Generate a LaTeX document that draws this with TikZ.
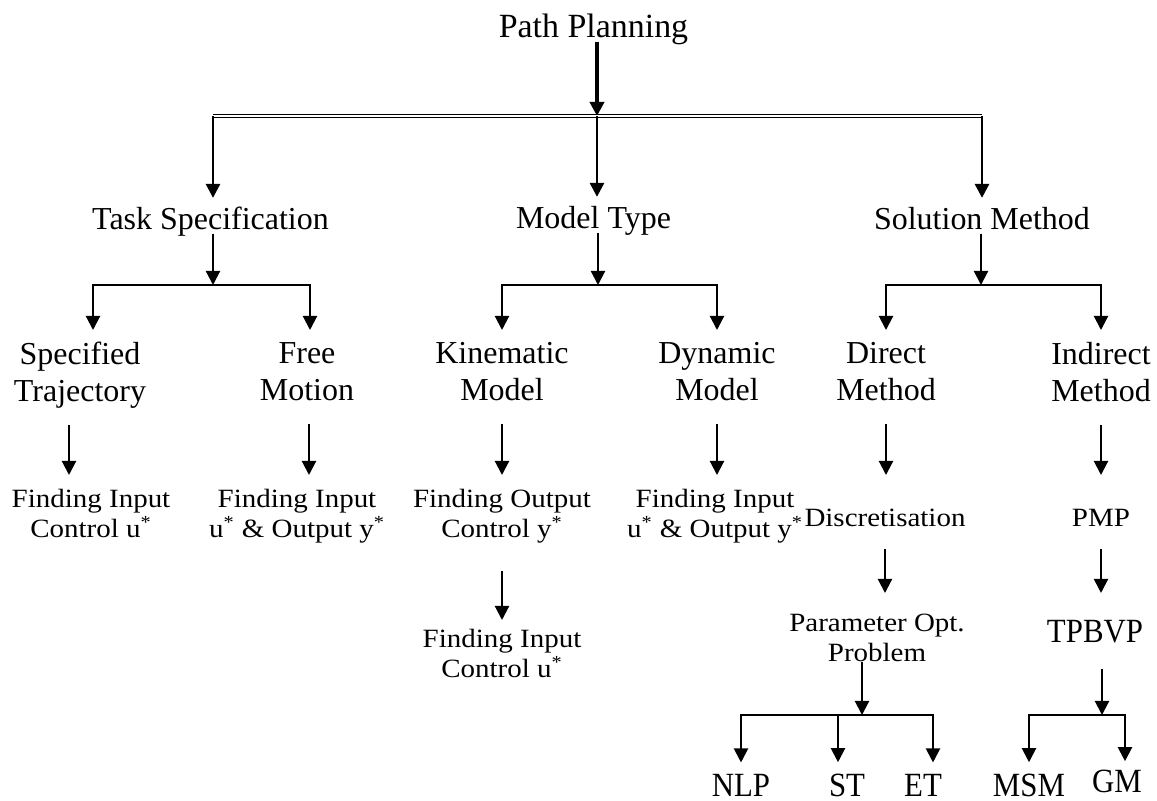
\documentclass[tikz,border=0pt]{standalone}
\usepackage{fontspec}
\setmainfont{Liberation Serif}
\newfontfamily\wideserif[FakeStretch=1.1]{Liberation Serif}
\newfontfamily\tallserif[FakeStretch=0.91]{Liberation Serif}
\usetikzlibrary{arrows.meta}
\tikzset{>={Triangle[width=8pt,length=8pt]}}

\begin{document}
\begin{tikzpicture}[x=0.02cm, y=-0.02cm,
    head/.style={inner sep=0pt, anchor=base, text height=0.7em, text depth=0.25em, font=\fontsize{18.2}{21}\selectfont},
    kind/.style={inner sep=0pt, anchor=north, align=center, font=\fontsize{18.2}{21}\selectfont, execute at begin node=\strut, execute at end node=\strut},
    goal/.style={inner sep=0pt, anchor=north, align=center, font=\wideserif\fontsize{15}{17}\selectfont, execute at begin node=\strut, execute at end node=\strut},
    leaf/.style={inner sep=0pt, anchor=base, font=\tallserif\fontsize{19.3}{22}\selectfont},
    link/.style={->, line width=1.2pt},
    trunk/.style={->, line width=1.6pt}]
    \useasboundingbox (0,0) rectangle (1157,801);

    %Nodes
    \node[head, font=\fontsize{19.3}{22}\selectfont] (pp) at (593.5,37) {Path Planning};
    \node[head] (task) at (210.5,229) {Task Specification};
    \node[head] (model) at (593.5,228) {Model Type};
    \node[head] (sol) at (982,229) {Solution Method};

    \node[kind] (spec) at (80,342) {Specified\\Trajectory};
    \node[kind] (free) at (307,342) {Free\\Motion};
    \node[kind] (kin) at (502,342) {Kinematic\\Model};
    \node[kind] (dyn) at (717,342) {Dynamic\\Model};
    \node[kind] (dir) at (886,342) {Direct\\Method};
    \node[kind] (ind) at (1101,342) {Indirect\\Method};

    \node[goal] (specin) at (91,489) {Finding Input\\Control u\textsuperscript{*}};
    \node[goal] (freeio) at (297,489) {Finding Input\\u\textsuperscript{*} \& Output y\textsuperscript{*}};
    \node[goal] (kinout) at (502,489) {Finding Output\\Control y\textsuperscript{*}};
    \node[goal] (dynio) at (715,489) {Finding Input\\u\textsuperscript{*} \& Output y\textsuperscript{*}};
    \node[goal] (kinin) at (502,629) {Finding Input\\Control u\textsuperscript{*}};
    \node[goal] (disc) at (885,505) {Discretisation};
    \node[goal] (pmp) at (1101,505) {PMP};
    \node[goal] (param) at (877,614) {Parameter Opt.\\Problem};
    \node[leaf] (tpbvp) at (1095,642) {TPBVP};

    \node[leaf] (nlp) at (741,796) {NLP};
    \node[leaf] (st) at (847,796) {ST};
    \node[leaf] (et) at (923,796) {ET};
    \node[leaf] (msm) at (1029,796) {MSM};
    \node[leaf] (gm) at (1117,792) {GM};

    %Forks
    \coordinate (split) at (597,116);
    \coordinate (lt) at (213,116);
    \coordinate (rt) at (982,116);
    \coordinate (taskfork) at (213,285);
    \coordinate (modelfork) at (598,285);
    \coordinate (solfork) at (981,285);
    \coordinate (paramfork) at (862,715);
    \coordinate (tpbvpfork) at (1102,715);

    %Lines
    \draw[->, line width=2.8pt] (pp.south -| split) -- (split);
    \draw[line width=0.6pt, double, double distance=1.3pt] (lt) -- (rt);
    \draw[trunk, shorten >=0.37cm] (lt) -- (lt |- task.north);
    \draw[trunk, shorten >=0.37cm] (split) -- (split |- model.north);
    \draw[trunk, shorten >=0.37cm] (rt) -- (rt |- sol.north);

    \draw[link] (task.south -| taskfork) -- (taskfork);
    \draw[link] (model.south -| modelfork) -- (modelfork);
    \draw[link] (sol.south -| solfork) -- (solfork);
    \draw[link, <->, shorten <=0.24cm, shorten >=0.24cm] ([xshift=0.26cm]spec.north) |- (taskfork) -| ([xshift=0.06cm]free.north);
    \draw[link, <->, shorten <=0.24cm, shorten >=0.24cm] (kin.north) |- (modelfork) -| (dyn.north);
    \draw[link, <->, shorten <=0.24cm, shorten >=0.24cm] (dir.north) |- (solfork) -| (ind.north);

    \draw[link, shorten <=0.24cm, shorten >=0.28cm] ([xshift=-0.22cm]spec.south) -- ([xshift=-0.22cm]spec.south |- specin.north);
    \draw[link, shorten <=0.24cm, shorten >=0.28cm] ([xshift=0.04cm]free.south) -- ([xshift=0.04cm]free.south |- freeio.north);
    \draw[link, shorten <=0.24cm, shorten >=0.28cm] (kin.south) -- (kin.south |- kinout.north);
    \draw[link, shorten <=0.24cm, shorten >=0.28cm] (dyn.south) -- (dyn.south |- dynio.north);
    \draw[link, shorten <=0.24cm, shorten >=0.6cm] (dir.south) -- (dir.south |- disc.north);
    \draw[link, shorten <=0.24cm, shorten >=0.6cm] (ind.south) -- (ind.south |- pmp.north);

    \draw[link, shorten <=0.48cm, shorten >=0.18cm] (kinout.south) -- (kinout.south |- kinin.north);
    \draw[link, shorten <=0.26cm, shorten >=0.42cm] (disc.south) -- (disc.south |- param.north);
    \draw[link, shorten <=0.26cm, shorten >=0.53cm] (pmp.south) -- (pmp.south |- tpbvp.north);

    \draw[link, shorten <=-0.18cm] (param.south -| paramfork) -- (paramfork);
    \draw[link, shorten <=0.52cm] (tpbvp.south -| tpbvpfork) -- (tpbvpfork);
    \draw[link, <->, shorten <=0.22cm, shorten >=0.22cm] (nlp.north) |- (paramfork) -| ([xshift=0.2cm]et.north);
    \draw[link, shorten >=0.22cm] ([xshift=-0.18cm]st.north |- paramfork) -- ([xshift=-0.18cm]st.north);
    \draw[link, <->, shorten <=0.22cm, shorten >=0.16cm] (msm.north) |- (tpbvpfork) -| ([xshift=0.16cm]gm.north);

\end{tikzpicture}
\end{document}
